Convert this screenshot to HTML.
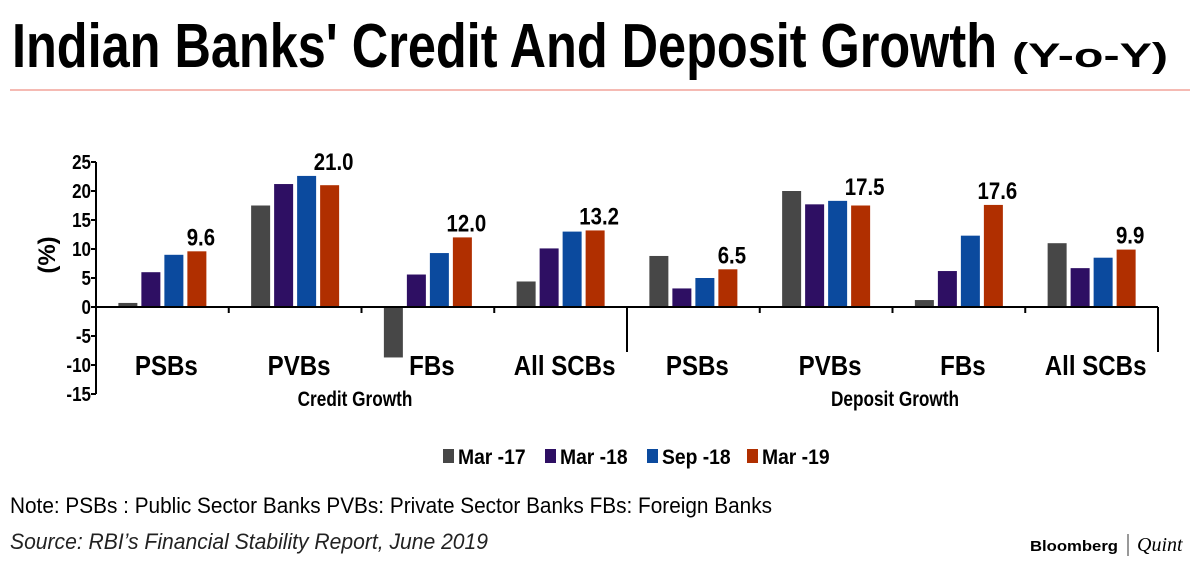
<!DOCTYPE html>
<html><head><meta charset="utf-8"><style>
html,body{margin:0;padding:0;background:#fff;}
svg{display:block;font-family:"Liberation Sans Narrow","Liberation Sans",sans-serif;}
</style></head><body>
<svg id="chart" width="1200" height="566" viewBox="0 0 1200 566">
<text x="12" y="67" font-size="62" font-weight="bold" textLength="985" lengthAdjust="spacingAndGlyphs">Indian Banks' Credit And Deposit Growth</text>
<text x="1012" y="67" font-size="34" font-weight="bold" textLength="156" lengthAdjust="spacingAndGlyphs">(Y-o-Y)</text>
<line x1="10" y1="90" x2="1190" y2="90" stroke="#f2a39a" stroke-width="1.5"/>
<g id="plot"></g>
<text x="55" y="255" font-size="24" font-weight="bold" transform="rotate(-90 55 255)" text-anchor="middle">(%)</text>
<text x="355" y="406" font-size="21" font-weight="bold" text-anchor="middle" transform="translate(355 0) scale(0.82 1) translate(-355 0)">Credit Growth</text>
<text x="895" y="406" font-size="21" font-weight="bold" text-anchor="middle" transform="translate(895 0) scale(0.82 1) translate(-895 0)">Deposit Growth</text>
<g id="legend"></g>
<text x="10" y="513" font-size="22" textLength="762" lengthAdjust="spacingAndGlyphs">Note: PSBs : Public Sector Banks  PVBs: Private Sector Banks  FBs: Foreign Banks</text>
<text x="10" y="549" font-size="22" font-style="italic" fill="#222" textLength="478" lengthAdjust="spacingAndGlyphs">Source: RBI’s Financial Stability Report, June 2019</text>
<text x="1030" y="551" font-family="Liberation Sans, sans-serif" font-size="15" font-weight="bold" textLength="88" lengthAdjust="spacingAndGlyphs">Bloomberg</text>
<line x1="1128" y1="534" x2="1128" y2="556" stroke="#333" stroke-width="1"/>
<text x="1137" y="551" font-family="Liberation Serif, serif" font-size="20" font-style="italic">Quint</text>
</svg>
<script>
const categories = ["PSBs","PVBs","FBs","All SCBs","PSBs","PVBs","FBs","All SCBs"];
const seriesNames = ["Mar -17","Mar -18","Sep -18","Mar -19"];
const mar17 = [0.7,17.5,-8.7,4.4,8.8,20.0,1.2,11.0];
const mar18 = [6.0,21.2,5.6,10.1,3.2,17.7,6.2,6.7];
const sep18 = [9.0,22.6,9.3,13.0,5.0,18.3,12.3,8.5];
const mar19 = [9.6,21.0,12.0,13.2,6.5,17.5,17.6,9.9];
const printedLabels = ["9.6","21.0","12.0","13.2","6.5","17.5","17.6","9.9"];
const yTicks = [25,20,15,10,5,0,-5,-10,-15];
const colors = ["#474747","#2e0f63","#0b4a9e","#b02f00"];

const NS="http://www.w3.org/2000/svg";
const plot=document.getElementById('plot');
const x0=96,x1=1158,gw=(x1-x0)/categories.length;
function y(v){return 307 - v*5.8;}
function mk(tag,attrs,parent){const e=document.createElementNS(NS,tag);for(const k in attrs)e.setAttribute(k,attrs[k]);(parent||plot).appendChild(e);return e;}
function sq(e,x,s){e.setAttribute('transform','translate('+x+' 0) scale('+s+' 1) translate('+(-x)+' 0)');}

const series=[mar17,mar18,sep18,mar19];
series.forEach((s,si)=>{
  s.forEach((v,ci)=>{
    const cx=x0+gw*(ci+0.5)+(si-1.5)*23;
    const r=mk('rect',{x:cx-9.5,y:Math.min(y(v),y(0)),width:19,height:Math.abs(y(v)-y(0)),fill:colors[si]});
    
    
  });
});
mar19.forEach((v,ci)=>{
  const cx=x0+gw*(ci+0.5)+1.5*23+4;
  const t=mk('text',{x:cx,y:y(Math.max(v,sep18[ci]))-6,'font-size':24,'font-weight':'bold','text-anchor':'middle'});
  t.textContent=printedLabels[ci];
  sq(t,cx,0.85);
  
  
});
const ya=mk('line',{x1:x0,y1:y(25),x2:x0,y2:y(-15),stroke:'#000','stroke-width':2});


yTicks.forEach(v=>{
  mk('line',{x1:x0-5,y1:y(v),x2:x0,y2:y(v),stroke:'#000','stroke-width':2});
  const t=mk('text',{x:x0-5,y:y(v)+7,'font-size':20,'font-weight':'bold','text-anchor':'end'});
  t.textContent=v;
  sq(t,x0-5,0.85);
  
  
});
const xa=mk('line',{x1:x0,y1:y(0),x2:x1,y2:y(0),stroke:'#000','stroke-width':2});


for(let i=1;i<=categories.length;i++){
  const xx=x0+gw*i;
  const long=(i===4||i===8);
  mk('line',{x1:xx,y1:y(0),x2:xx,y2:long?352:313,stroke:'#000','stroke-width':2});
}
categories.forEach((c,ci)=>{
  const cx=x0+gw*(ci+0.5)+4;
  const t=mk('text',{x:cx,y:375,'font-size':28,'font-weight':'bold','text-anchor':'middle'});
  t.textContent=c;
  sq(t,cx,0.86);
  
  
});
const lg=document.getElementById('legend');
const lx=[443,545,647,747];
seriesNames.forEach((n,i)=>{
  mk('rect',{x:lx[i],y:449,width:11,height:14,fill:colors[i]},lg);
  const t=mk('text',{x:lx[i]+15,y:464,'font-size':21,'font-weight':'bold'},lg);
  t.textContent=n;
  sq(t,lx[i]+15,0.92);
  
  
});
</script>
</body></html>
